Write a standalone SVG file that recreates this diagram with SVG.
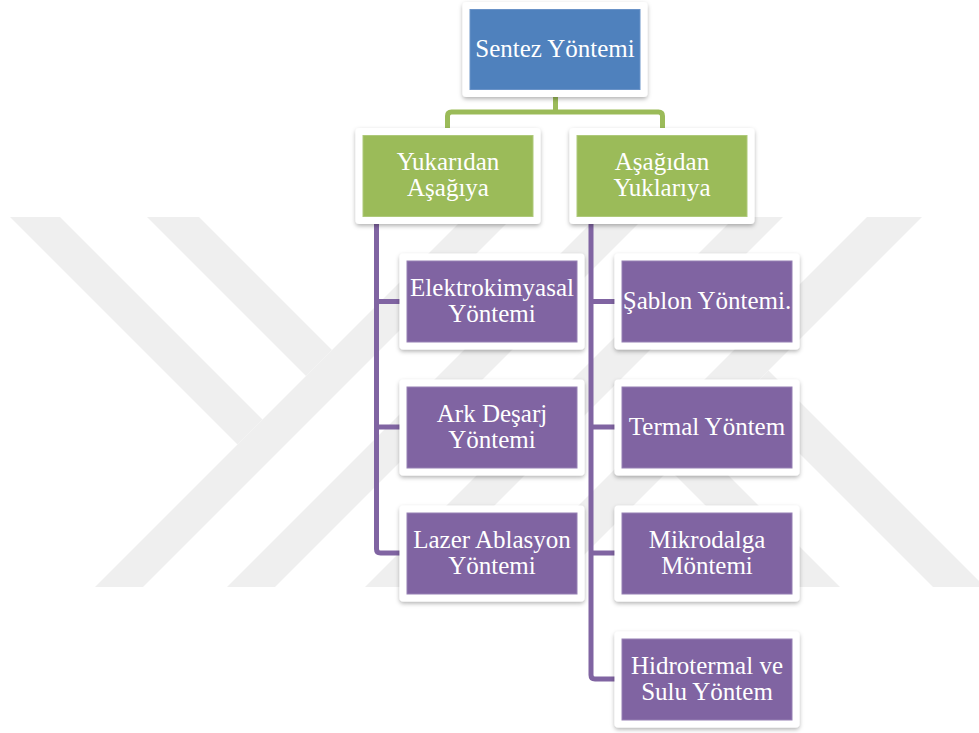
<svg xmlns="http://www.w3.org/2000/svg" width="979" height="733" viewBox="0 0 979 733">
<defs>
<style>
.wm{fill:#efefef}
.frame{fill:#ffffff;filter:url(#sh)}
.blue{fill:#4f81bd;stroke:#6a93c8;stroke-width:1}
.green{fill:#9bbb59;stroke:#aec97a;stroke-width:1}
.purple{fill:#8064a2;stroke:#9680b4;stroke-width:1}
.cg{fill:none;stroke:#9bbb59;stroke-width:5}
.cp{fill:none;stroke:#8064a2;stroke-width:5}
text{font-family:"Liberation Serif","Times New Roman",serif;font-size:25px;fill:#ffffff;text-anchor:middle}
</style>
<filter id="sh" x="-10%" y="-10%" width="120%" height="135%">
<feDropShadow dx="0" dy="2" stdDeviation="2" flood-color="#000" flood-opacity="0.3"/>
</filter>
</defs>
<rect width="979" height="733" fill="#ffffff"/>
<g id="watermark">
<polygon class="wm" points="10,217 60,217 262.5,419.5 237.5,444.5"/>
<polygon class="wm" points="147,217 199,217 332,350 306,376"/>
<polygon class="wm" points="95,587 143,587 513,217 465,217"/>
<polygon class="wm" points="227,587 275,587 645,217 597,217"/>
<polygon class="wm" points="365,587 413,587 783,217 735,217"/>
<polygon class="wm" points="497,587 552,587 922,217 867,217"/>
<polygon class="wm" points="933,587 985,587 768.5,370.5 742.5,396.5"/>
<polygon class="wm" points="787,587 840,587 696,443 669.5,469.5"/>
</g>
<g id="connectors">
<path class="cg" d="M555.5,97 V112 M447.5,132 V116 Q447.5,112 451.5,112 H658.5 Q662.5,112 662.5,116 V132"/>
<path class="cp" d="M376.5,222 V549 Q376.5,553 380.5,553 H402 M376.5,301.5 H402 M376.5,427 H402"/>
<path class="cp" d="M591,222 V675 Q591,679 595,679 H617 M591,301.5 H617 M591,427 H617 M591,553 H617"/>
</g>
<g id="root">
<rect class="frame" x="462.5" y="2" width="185" height="95" rx="4"/>
<rect class="blue" x="470" y="9.5" width="170" height="80"/>
<text x="555" y="57">Sentez Yöntemi</text>
</g>
<g id="n-yukaridan">
<rect class="frame" x="355.5" y="128" width="185" height="96" rx="4"/>
<rect class="green" x="363" y="135.5" width="170" height="81"/>
<text x="448" y="170">Yukarıdan</text>
<text x="448" y="196">Aşağıya</text>
</g>
<g id="n-asagidan">
<rect class="frame" x="569.5" y="128" width="185" height="96" rx="4"/>
<rect class="green" x="577" y="135.5" width="170" height="81"/>
<text x="662" y="170">Aşağıdan</text>
<text x="662" y="196">Yuklarıya</text>
</g>
<g id="n-elektro">
<rect class="frame" x="399.5" y="253.5" width="185" height="96" rx="4"/>
<rect class="purple" x="407" y="261" width="170" height="81"/>
<text x="492" y="296">Elektrokimyasal</text>
<text x="492" y="322">Yöntemi</text>
</g>
<g id="n-ark">
<rect class="frame" x="399.5" y="379.5" width="185" height="96" rx="4"/>
<rect class="purple" x="407" y="387" width="170" height="81"/>
<text x="492" y="422">Ark Deşarj</text>
<text x="492" y="448">Yöntemi</text>
</g>
<g id="n-lazer">
<rect class="frame" x="399.5" y="505.5" width="185" height="96" rx="4"/>
<rect class="purple" x="407" y="513" width="170" height="81"/>
<text x="492" y="548">Lazer Ablasyon</text>
<text x="492" y="574">Yöntemi</text>
</g>
<g id="n-sablon">
<rect class="frame" x="614.5" y="253.5" width="185" height="96" rx="4"/>
<rect class="purple" x="622" y="261" width="170" height="81"/>
<text x="707" y="309">Şablon Yöntemi.</text>
</g>
<g id="n-termal">
<rect class="frame" x="614.5" y="379.5" width="185" height="96" rx="4"/>
<rect class="purple" x="622" y="387" width="170" height="81"/>
<text x="707" y="435">Termal Yöntem</text>
</g>
<g id="n-mikro">
<rect class="frame" x="614.5" y="505.5" width="185" height="96" rx="4"/>
<rect class="purple" x="622" y="513" width="170" height="81"/>
<text x="707" y="548">Mikrodalga</text>
<text x="707" y="574">Möntemi</text>
</g>
<g id="n-hidro">
<rect class="frame" x="614.5" y="631.5" width="185" height="96" rx="4"/>
<rect class="purple" x="622" y="639" width="170" height="81"/>
<text x="707" y="674">Hidrotermal ve</text>
<text x="707" y="700">Sulu Yöntem</text>
</g>
</svg>
